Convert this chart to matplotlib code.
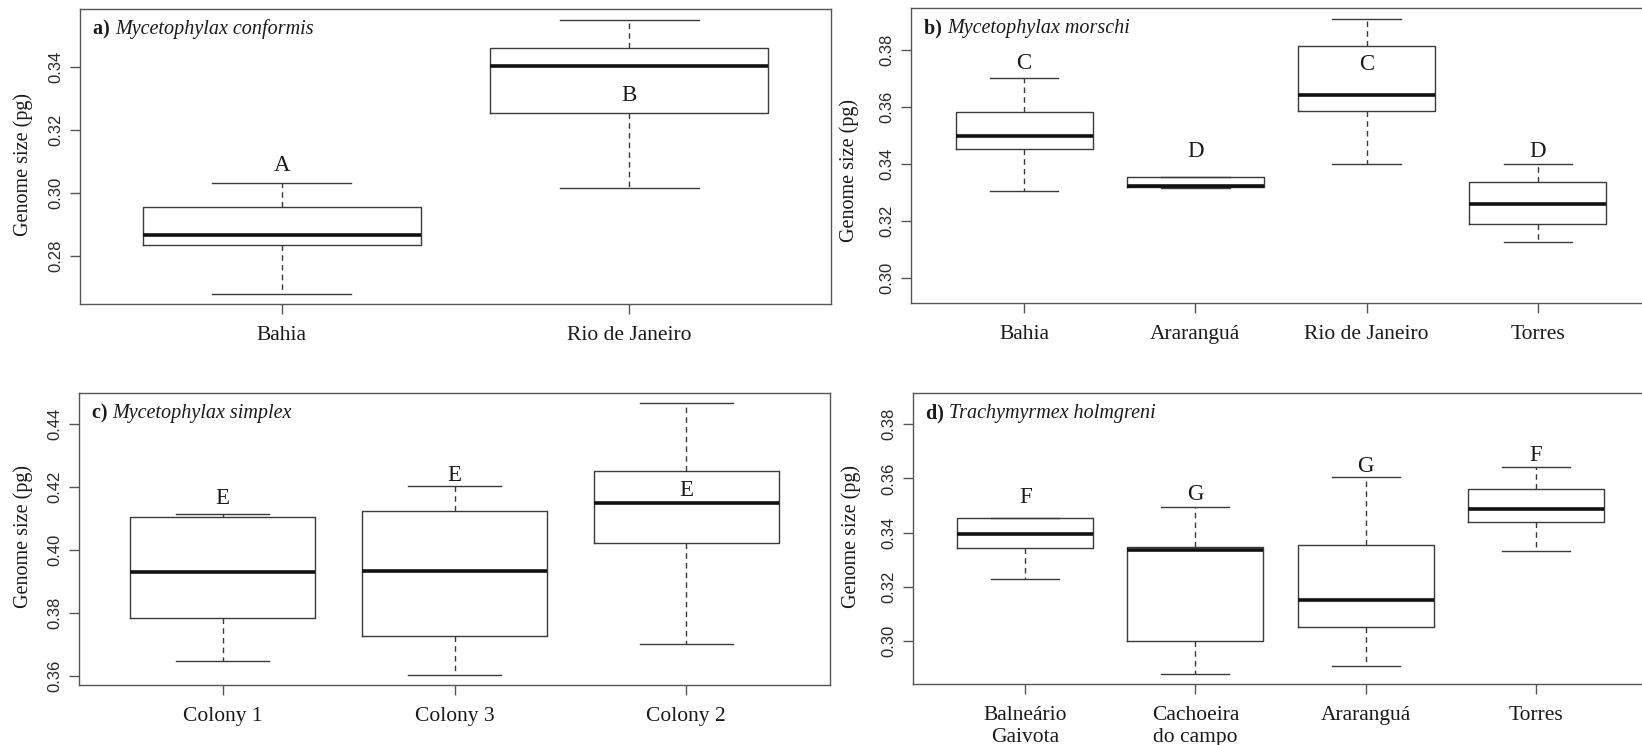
import matplotlib
matplotlib.use('Agg')
import matplotlib.pyplot as plt

W, H = 1642, 745

# panel a
a_sites = ['Bahia', 'Rio de Janeiro']
a_low = [0.2682, 0.3015]
a_q1 = [0.2835, 0.3253]
a_med = [0.2869, 0.3402]
a_q3 = [0.2956, 0.3460]
a_high = [0.3031, 0.3549]
a_letters = ['A', 'B']
a_letter_y = [0.3070, 0.3292]

# panel b
b_sites = ['Bahia', 'Araranguá', 'Rio de Janeiro', 'Torres']
b_low = [0.3304, 0.3314, 0.3400, 0.3125]
b_q1 = [0.3454, 0.3320, 0.3588, 0.3188]
b_med = [0.3500, 0.3324, 0.3644, 0.3260]
b_q3 = [0.3583, 0.3354, 0.3816, 0.3337]
b_high = [0.3704, 0.3354, 0.3911, 0.3401]
b_letters = ['C', 'D', 'C', 'D']
b_letter_y = [0.3734, 0.3424, 0.3731, 0.3426]

# panel c
c_sites = ['Colony 1', 'Colony 3', 'Colony 2']
c_low = [0.3647, 0.3603, 0.3700]
c_q1 = [0.3782, 0.3725, 0.4022]
c_med = [0.3930, 0.3932, 0.4147]
c_q3 = [0.4104, 0.4124, 0.4251]
c_high = [0.4113, 0.4202, 0.4465]
c_letters = ['E', 'E', 'E']
c_letter_y = [0.4145, 0.4219, 0.4171]

# panel d
d_sites = ['Balneário\nGaivota', 'Cachoeira\ndo campo', 'Araranguá', 'Torres']
d_low = [0.3228, 0.2880, 0.2909, 0.3334]
d_q1 = [0.3345, 0.2999, 0.3053, 0.3438]
d_med = [0.3394, 0.3335, 0.3152, 0.3487]
d_q3 = [0.3453, 0.3347, 0.3355, 0.3560]
d_high = [0.3453, 0.3496, 0.3606, 0.3642]
d_letters = ['F', 'G', 'G', 'F']
d_letter_y = [0.3510, 0.3520, 0.3624, 0.3665]

serif = 'Liberation Serif'
sans = 'Liberation Sans'
line_col = '#3a3a3a'
frame_col = '#555555'

fig = plt.figure(figsize=(W / 100, H / 100), dpi=100)


def add_panel(px, label, species, sites, lo, q1, med, q3, hi, letters, letter_y,
              ylim, yticks, ylab_px):
	x0, x1, y0, y1 = px
	ax = fig.add_axes([x0 / W, 1 - y1 / H, (x1 - x0) / W, (y1 - y0) / H])
	stats = []
	for i in range(len(sites)):
		stats.append({'whislo': lo[i], 'q1': q1[i], 'med': med[i], 'q3': q3[i],
					  'whishi': hi[i], 'fliers': []})
	n = len(sites)
	pos = list(range(1, n + 1))
	ax.bxp(stats, positions=pos, widths=0.8, capwidths=0.4, showfliers=False,
		   boxprops=dict(color=line_col, linewidth=1.0),
		   medianprops=dict(color='#111111', linewidth=2.6, solid_capstyle='butt'),
		   whiskerprops=dict(color=line_col, linewidth=1.0, linestyle=(0, (4, 3))),
		   capprops=dict(color=line_col, linewidth=1.0))
	for x, t, y in zip(pos, letters, letter_y):
		ax.text(x, y, t, ha='center', va='baseline', fontsize=16.5, family=serif,
				color='#1a1a1a')
	ax.set_xlim(0.5 - 0.04 * n, n + 0.5 + 0.04 * n)
	ax.set_ylim(*ylim)
	ax.set_xticks(pos)
	ax.set_xticklabels(sites, fontsize=15.5, family=serif, color='#1a1a1a')
	ax.set_yticks(yticks)
	ax.set_yticklabels(['%.2f' % v for v in yticks], fontsize=12, family=sans,
					   rotation=90, va='center', color='#2a2a2a')
	ax.tick_params(axis='x', length=7, width=1, color=frame_col, pad=9)
	ax.tick_params(axis='y', length=7, width=1, color=frame_col, pad=5)
	for s in ax.spines.values():
		s.set_color(frame_col)
		s.set_linewidth(1.0)
	ax.set_ylabel('Genome size (pg)', fontsize=14.5, family=serif, color='#1a1a1a')
	# label anchor is its right edge once rotated
	lx, ly = ylab_px
	ax.yaxis.set_label_coords((lx + 10 - x0) / (x1 - x0), (y1 - ly) / (y1 - y0))
	ty = 1 - 25 / (y1 - y0)
	lab = ax.text(13 / (x1 - x0), ty, label + ' ', transform=ax.transAxes,
				  fontsize=14.5, family=serif, fontweight='bold', va='baseline',
				  ha='left', color='#1a1a1a')
	t = ax.text(13 / (x1 - x0), ty, species, transform=ax.transAxes,
				fontsize=14.5, family=serif, style='italic', va='baseline', ha='left',
				color='#1a1a1a')
	# shift species name past the bold label
	fig.canvas.draw()
	r = fig.canvas.get_renderer()
	bb = lab.get_window_extent(r)
	axbb = ax.get_window_extent(r)
	t.set_position(((bb.x1 - axbb.x0) / axbb.width, ty))
	return ax


add_panel((80, 831, 9, 304), 'a)', 'Mycetophylax conformis', a_sites,
		  a_low, a_q1, a_med, a_q3, a_high, a_letters, a_letter_y,
		  (0.2649, 0.3583), [0.28, 0.30, 0.32, 0.34], (23, 165))
add_panel((911, 1651, 8, 303), 'b)', 'Mycetophylax morschi', b_sites,
		  b_low, b_q1, b_med, b_q3, b_high, b_letters, b_letter_y,
		  (0.2911, 0.3949), [0.30, 0.32, 0.34, 0.36, 0.38], (849, 170))
add_panel((79, 830, 393, 685), 'c)', 'Mycetophylax simplex', c_sites,
		  c_low, c_q1, c_med, c_q3, c_high, c_letters, c_letter_y,
		  (0.3570, 0.4498), [0.36, 0.38, 0.40, 0.42, 0.44], (23, 536))
add_panel((913, 1648, 393, 684), 'd)', 'Trachymyrmex holmgreni', d_sites,
		  d_low, d_q1, d_med, d_q3, d_high, d_letters, d_letter_y,
		  (0.2842, 0.3915), [0.30, 0.32, 0.34, 0.36, 0.38], (851, 536))

fig.savefig('out.png', dpi=100, facecolor='white')
